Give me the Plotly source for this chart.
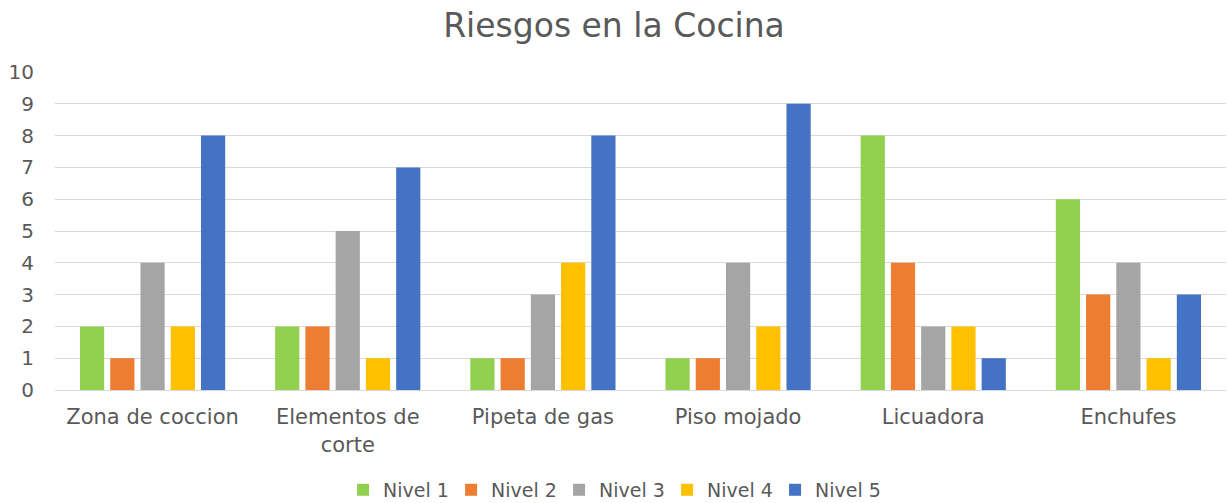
import plotly.graph_objects as go

# Data
categories = ["Zona de coccion", "Elementos de<br>corte", "Pipeta de gas",
              "Piso mojado", "Licuadora", "Enchufes"]
series_names = ["Nivel 1", "Nivel 2", "Nivel 3", "Nivel 4", "Nivel 5"]
nivel_1 = [2, 2, 1, 1, 8, 6]
nivel_2 = [1, 2, 1, 1, 4, 3]
nivel_3 = [4, 5, 3, 4, 2, 4]
nivel_4 = [2, 1, 4, 2, 2, 1]
nivel_5 = [8, 7, 8, 9, 1, 3]
colors = ["#92D050", "#ED7D31", "#A5A5A5", "#FFC000", "#4472C4"]

font_family = "'DejaVu Sans', sans-serif"
text_color = "#595959"

fig = go.Figure()
for name, vals, col in zip(series_names, [nivel_1, nivel_2, nivel_3, nivel_4, nivel_5], colors):
    fig.add_trace(go.Bar(x=categories, y=vals, name=name,
                         marker=dict(color=col, line=dict(width=0))))

fig.update_layout(
    width=1228, height=503,
    barmode="group", bargap=0.225, bargroupgap=0.2,
    paper_bgcolor="white", plot_bgcolor="white",
    margin=dict(l=55, r=2, t=72, b=113, autoexpand=False),
    font=dict(family=font_family, color=text_color, size=20),
    title=dict(text="Riesgos en la Cocina", x=0.5, xanchor="center",
               y=0.95, yanchor="middle",
               font=dict(size=33, color=text_color, family=font_family)),
    legend=dict(orientation="h", x=0.246, xanchor="left",
                yref="container", y=0.026, yanchor="middle",
                font=dict(size=19, color=text_color), itemwidth=30,
                entrywidth=63, entrywidthmode="pixels",
                traceorder="normal"),
    xaxis=dict(showgrid=False, showline=True, linecolor="#D9D9D9", linewidth=1,
               ticks="", ticklabelstandoff=8,
               tickfont=dict(size=21, color=text_color)),
    yaxis=dict(range=[0, 10], dtick=1, showgrid=True, gridcolor="#D9D9D9",
               gridwidth=1, zeroline=False, ticks="", ticklabelstandoff=20,
               tickfont=dict(size=20, color=text_color)),
)

# the browser's default body margin would shift the chart by 8px
fig.write_html("out.html", config={"displayModeBar": False},
               post_script="document.body.style.margin='0';")
